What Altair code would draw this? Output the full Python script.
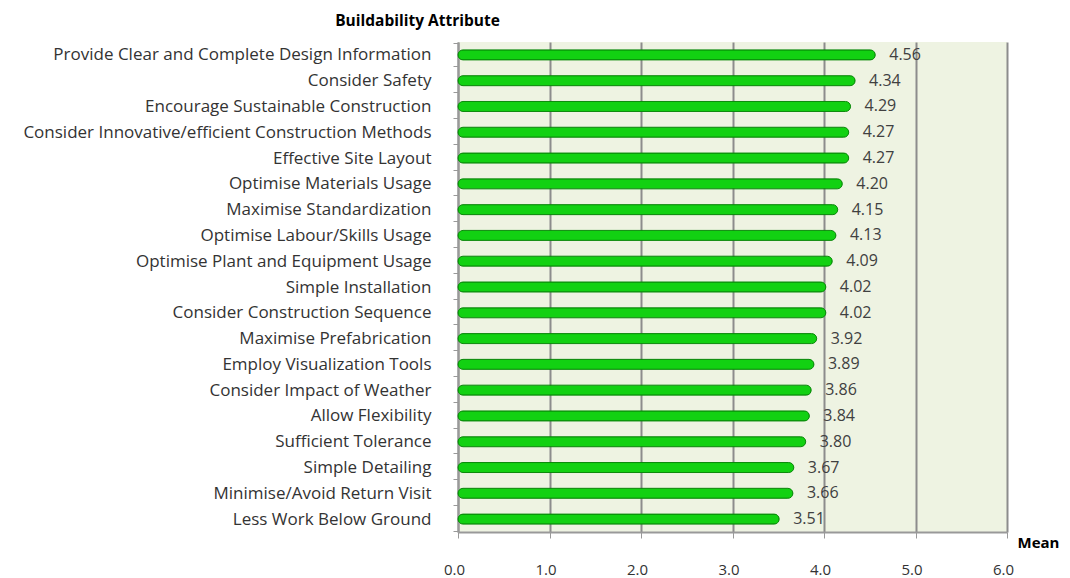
import altair as alt
import pandas as pd

attributes = [
    "Provide Clear and Complete Design Information",
    "Consider Safety",
    "Encourage Sustainable Construction",
    "Consider Innovative/efficient Construction Methods",
    "Effective Site Layout",
    "Optimise Materials Usage",
    "Maximise Standardization",
    "Optimise Labour/Skills Usage",
    "Optimise Plant and Equipment Usage",
    "Simple Installation",
    "Consider Construction Sequence",
    "Maximise Prefabrication",
    "Employ Visualization Tools",
    "Consider Impact of Weather",
    "Allow Flexibility",
    "Sufficient Tolerance",
    "Simple Detailing",
    "Minimise/Avoid Return Visit",
    "Less Work Below Ground",
]
means = [4.56, 4.34, 4.29, 4.27, 4.27, 4.20, 4.15, 4.13, 4.09, 4.02, 4.02,
         3.92, 3.89, 3.86, 3.84, 3.80, 3.67, 3.66, 3.51]
x_ticks = [0, 1, 2, 3, 4, 5, 6]

df = pd.DataFrame({"Attribute": attributes, "Mean": means})

FONT = "Open Sans"

base = alt.Chart(df).encode(
    y=alt.Y(
        "Attribute:N",
        sort=attributes,
        axis=alt.Axis(
            title="Buildability Attribute",
            titleAngle=0,
            titleX=-41,
            titleY=-22,
            titleAlign="center",
            titleBaseline="middle",
            titleFont=FONT,
            titleFontSize=15.5,
            titleFontWeight="bold",
            titleColor="#000000",
            labelFont=FONT,
            labelFontSize=17,
            labelColor="#333333",
            labelPadding=22,
            labelLimit=460,
            tickBand="extent",
            tickSize=5,
            tickColor="#999999",
            domainColor="#999999",
            domainWidth=2,
        ),
    ),
    x=alt.X(
        "Mean:Q",
        scale=alt.Scale(domain=[0, 6], nice=False, zero=True),
        axis=alt.Axis(
            values=x_ticks,
            format=".1f",
            title="Mean",
            titleX=580,
            titleY=10,
            titleAlign="center",
            titleBaseline="middle",
            titleFont=FONT,
            titleFontSize=15,
            titleFontWeight="bold",
            titleColor="#000000",
            labelFont=FONT,
            labelFontSize=15,
            labelColor="#333333",
            labelPadding=24,
            labelFlush=False,
            labelOffset=-4,
            tickSize=6,
            tickColor="#999999",
            domainColor="#999999",
            domainWidth=2,
            grid=True,
            gridColor="#8c8c8c",
            gridWidth=2,
        ),
    ),
)

bars = base.mark_bar(
    height=10,
    cornerRadius=5,
    color="#12d112",
    stroke="#0a8a0a",
    strokeWidth=1,
)

labels = base.mark_text(
    align="left",
    baseline="middle",
    dx=14,
    font=FONT,
    fontSize=16,
    color="#404040",
).encode(text=alt.Text("Mean:Q", format=".2f"))

chart = (
    alt.layer(bars, labels)
    .properties(
        width=549,
        height=490,
        autosize=alt.AutoSizeParams(type="none"),
        padding={"left": 450, "top": 34, "right": 52, "bottom": 46},
        background="#ffffff",
    )
    .configure_view(fill="#eef3e2", stroke=None)
)

chart.save("out.html", embed_options={"renderer": "svg", "actions": False})
